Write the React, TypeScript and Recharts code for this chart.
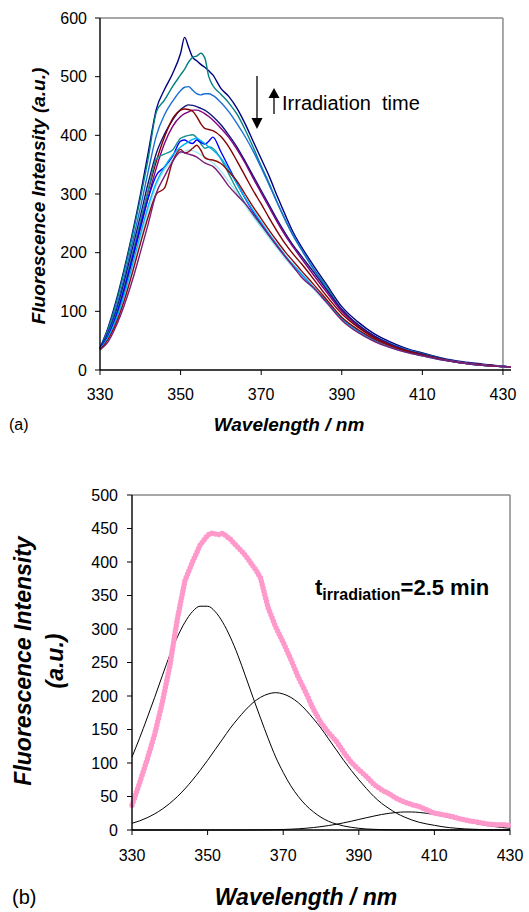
import React from 'react';
import { LineChart, Line, XAxis, YAxis, ReferenceLine } from 'recharts';

// ---- panel (a): emission spectra for successive irradiation times ----
const wavelengthA = [330, 332, 334, 336, 338, 340, 342, 344, 346, 348, 350, 351, 352, 353, 354, 355, 356, 357, 358, 360, 362, 364, 366, 368, 370, 372, 374, 376, 378, 380, 383, 386, 390, 394, 398, 402, 406, 410, 415, 420, 425, 432];

const navyTop = [38, 72, 118, 172, 232, 298, 372, 445, 478, 505, 540, 567, 550, 533, 527, 521, 516, 510, 503, 480, 466, 446, 420, 390, 360, 330, 296, 264, 234, 210, 178, 148, 108, 82, 62, 48, 37, 29, 20, 14, 10, 5];
const tealTop = [37, 70, 114, 168, 228, 292, 362, 440, 460, 483, 503, 513, 525, 533, 535, 540, 532, 500, 485, 470, 455, 436, 410, 380, 348, 318, 285, 255, 228, 205, 172, 145, 102, 78, 58, 45, 35, 28, 19, 13, 9, 5];
const blueMid = [37, 66, 106, 158, 216, 276, 340, 400, 435, 458, 476, 482, 483, 477, 471, 469, 471, 471, 468, 456, 440, 420, 398, 373, 345, 315, 285, 256, 229, 206, 173, 141, 103, 77, 58, 45, 35, 27, 19, 13, 9, 5];
const navyMid = [38, 63, 100, 150, 206, 262, 320, 370, 402, 426, 444, 449, 452, 451, 449, 446, 443, 438, 432, 418, 400, 380, 356, 331, 306, 281, 256, 233, 212, 194, 167, 139, 103, 77, 58, 44, 34, 27, 19, 13, 9, 5];
const purpleMid = [36, 56, 88, 133, 186, 240, 295, 345, 386, 415, 432, 437, 440, 443, 443, 441, 437, 432, 426, 412, 396, 376, 353, 327, 302, 277, 252, 229, 209, 190, 162, 135, 100, 75, 56, 43, 33, 26, 18, 13, 9, 5];
const redMid = [36, 58, 93, 140, 195, 250, 306, 356, 397, 428, 443, 445, 444, 441, 432, 420, 412, 410, 408, 398, 380, 356, 331, 306, 283, 259, 236, 215, 197, 181, 155, 128, 96, 73, 55, 42, 33, 26, 18, 12, 9, 5];
const tealLow = [36, 60, 95, 142, 196, 252, 308, 360, 368, 375, 395, 398, 400, 401, 396, 386, 378, 380, 378, 360, 334, 307, 284, 264, 246, 227, 209, 191, 175, 161, 140, 119, 89, 68, 52, 40, 31, 25, 18, 12, 8, 5];
const blueLow = [37, 58, 92, 138, 190, 244, 294, 332, 346, 364, 390, 392, 388, 386, 392, 388, 385, 390, 397, 372, 345, 318, 293, 270, 250, 230, 211, 193, 177, 162, 139, 117, 87, 66, 51, 40, 31, 25, 18, 12, 8, 5];
const cyanLow = [35, 55, 86, 128, 178, 230, 280, 320, 346, 366, 380, 385, 389, 393, 395, 391, 386, 380, 375, 361, 341, 317, 294, 272, 252, 232, 213, 195, 179, 164, 141, 118, 87, 66, 50, 39, 31, 24, 17, 12, 8, 5];
const paleCyanLow = [35, 54, 84, 125, 172, 222, 272, 315, 341, 358, 370, 373, 375, 374, 371, 367, 363, 358, 353, 339, 321, 301, 281, 261, 243, 225, 207, 190, 175, 160, 138, 116, 86, 65, 50, 39, 30, 24, 17, 12, 8, 5];
const redLow = [35, 52, 80, 118, 165, 215, 262, 300, 310, 355, 376, 370, 372, 378, 383, 375, 362, 359, 358, 352, 338, 322, 300, 278, 258, 238, 219, 201, 185, 169, 146, 122, 90, 69, 53, 41, 32, 25, 18, 12, 8, 5];
const purpleLow = [34, 48, 75, 110, 152, 200, 250, 302, 330, 355, 372, 370, 368, 366, 363, 358, 353, 350, 347, 332, 313, 298, 284, 266, 248, 229, 211, 193, 176, 158, 140, 117, 85, 64, 49, 38, 30, 24, 17, 12, 8, 5];

const seriesA = [
  { key: 'navyTop', color: '#000080', values: navyTop },
  { key: 'tealTop', color: '#008080', values: tealTop },
  { key: 'blueMid', color: '#1A6FD6', values: blueMid },
  { key: 'navyMid', color: '#14147A', values: navyMid },
  { key: 'purpleMid', color: '#800080', values: purpleMid },
  { key: 'redMid', color: '#800000', values: redMid },
  { key: 'tealLow', color: '#16918F', values: tealLow },
  { key: 'blueLow', color: '#0000FF', values: blueLow },
  { key: 'paleCyanLow', color: '#A8E6F4', values: paleCyanLow },
  { key: 'cyanLow', color: '#00B4F0', values: cyanLow },
  { key: 'redLow', color: '#8B0A0A', values: redLow },
  { key: 'purpleLow', color: '#7A1E7A', values: purpleLow },
];

const dataA = wavelengthA.map((wl, i) => {
  const row: any = { wl };
  seriesA.forEach((s) => { row[s.key] = s.values[i]; });
  return row;
});

// ---- panel (b): measured spectrum at 2.5 min and its three components ----
const wavelengthMeas = [330, 332, 334, 336, 338, 340, 342, 344, 346, 348, 350, 351, 352, 353, 354, 356, 358, 360, 362, 363, 364, 366, 368, 370, 372, 374, 376, 378, 380, 382, 384, 386, 388, 390, 392, 394, 396, 398, 400, 402, 404, 406, 408, 410, 412, 414, 416, 418, 420, 422, 424, 426, 428, 430];
const measured = [37, 70, 105, 143, 190, 245, 315, 372, 400, 425, 440, 443, 442, 441, 443, 434, 422, 410, 394, 386, 376, 332, 303, 280, 255, 228, 205, 180, 160, 145, 133, 116, 101, 90, 80, 68, 60, 54, 47, 42, 38, 35, 30, 25, 23, 21, 18, 15, 13, 11, 9, 8, 8, 7];

const wavelengthFit = [330, 332, 334, 336, 338, 340, 342, 344, 346, 348, 350, 352, 354, 356, 358, 360, 362, 364, 366, 368, 370, 372, 374, 376, 378, 380, 382, 384, 386, 388, 390, 392, 394, 396, 398, 400, 402, 404, 406, 408, 410, 412, 414, 416, 418, 420, 422, 424, 426, 428, 430];
const band1 = [109, 137, 167, 198, 230, 261, 288, 310, 326, 334, 334, 326, 310, 288, 261, 230, 198, 167, 137, 109, 86, 66, 50, 37, 27, 19, 13, 9, 6, 4, 2.5, 1.5, 1, 0.6, 0.3, 0.2, 0.1, 0, 0, 0, 0, 0, 0, 0, 0, 0, 0, 0, 0, 0, 0];
const band2 = [10, 13.6, 18.3, 24.1, 31.2, 39.8, 49.8, 61.4, 74.5, 88.8, 104, 120, 136, 152, 166, 179, 190, 198, 203, 205, 203, 198, 190, 179, 166, 152, 136, 120, 104, 89, 75, 62, 50, 40, 32, 25, 19.5, 15, 11.5, 9, 7, 5, 3.5, 2.5, 1.7, 1.2, 0.8, 0.5, 0.3, 0.2, 0.1];
const band3 = [0, 0, 0, 0, 0, 0, 0, 0, 0, 0, 0, 0, 0, 0, 0, 0, 0.1, 0.2, 0.3, 0.5, 0.8, 1.2, 1.8, 2.6, 3.7, 5, 6.6, 8.5, 10.7, 13.1, 15.7, 18.3, 20.8, 23.1, 24.9, 26.2, 26.9, 26.9, 26.2, 24.9, 23.1, 20.8, 18.3, 15.7, 13.1, 10.7, 8.5, 6.6, 5, 3.7, 2.6];

const measData = wavelengthMeas.map((wl, i) => ({ wl, v: measured[i] }));
const fitData = wavelengthFit.map((wl, i) => ({ wl, b1: band1[i], b2: band2[i], b3: band3[i] }));

const ticksX = [330, 350, 370, 390, 410, 430];
const ticksYA = [0, 100, 200, 300, 400, 500, 600];
const ticksYB = [0, 50, 100, 150, 200, 250, 300, 350, 400, 450, 500];

const FONT = '"Liberation Sans", Arial, Helvetica, sans-serif';
const tickStyle = { fill: '#000', fontSize: 16, fontFamily: FONT };

export default function App() {
  return (
    <div style={{ position: 'absolute', left: 0, top: 0, width: 529, height: 912, background: '#fff', fontFamily: FONT }}>
      <div style={{ position: 'absolute', left: 0, top: 0 }}>
        <LineChart width={529} height={440} data={dataA} margin={{ top: 18, right: 18, bottom: 40, left: 0 }}>
          <XAxis
            dataKey="wl"
            type="number"
            domain={[330, 432]}
            ticks={ticksX}
            tick={tickStyle}
            tickSize={5}
            tickMargin={14}
            height={30}
            axisLine={{ stroke: '#000', strokeWidth: 1.4 }}
            tickLine={{ stroke: '#000' }}
          />
          <YAxis
            type="number"
            domain={[0, 600]}
            ticks={ticksYA}
            tick={tickStyle}
            tickSize={5}
            tickMargin={8}
            width={100}
            axisLine={{ stroke: '#000', strokeWidth: 1.4 }}
            tickLine={{ stroke: '#000' }}
          />
          <ReferenceLine segment={[{ x: 330, y: 600 }, { x: 430, y: 600 }]} stroke="#8a8a8a" strokeWidth={1.5} />
          <ReferenceLine x={430} stroke="#8a8a8a" strokeWidth={1.5} />
          {seriesA.map((s) => (
            <Line
              key={s.key}
              type="monotone"
              dataKey={s.key}
              stroke={s.color}
              strokeWidth={1.4}
              dot={false}
              isAnimationActive={false}
            />
          ))}
        </LineChart>
      </div>

      <div style={{ position: 'absolute', left: 0, top: 470 }}>
        <LineChart width={529} height={442} margin={{ top: 25, right: 19, bottom: 52, left: 0 }}>
          <XAxis
            dataKey="wl"
            type="number"
            domain={[330, 430]}
            ticks={ticksX}
            tick={tickStyle}
            tickSize={5}
            tickMargin={15}
            height={30}
            allowDuplicatedCategory={false}
            axisLine={{ stroke: '#000', strokeWidth: 1.4 }}
            tickLine={{ stroke: '#000' }}
          />
          <YAxis
            type="number"
            domain={[0, 500]}
            ticks={ticksYB}
            tick={tickStyle}
            tickSize={5}
            tickMargin={9}
            width={132}
            axisLine={{ stroke: '#000', strokeWidth: 1.4 }}
            tickLine={{ stroke: '#000' }}
          />
          <ReferenceLine y={500} stroke="#8a8a8a" strokeWidth={1.5} />
          <ReferenceLine x={430} stroke="#8a8a8a" strokeWidth={1.5} />
          <Line data={fitData} type="monotone" dataKey="b1" stroke="#000" strokeWidth={1} dot={false} isAnimationActive={false} />
          <Line data={fitData} type="monotone" dataKey="b2" stroke="#000" strokeWidth={1} dot={false} isAnimationActive={false} />
          <Line data={fitData} type="monotone" dataKey="b3" stroke="#000" strokeWidth={1} dot={false} isAnimationActive={false} />
          <Line data={measData} type="linear" dataKey="v" stroke="#000080" strokeWidth={1} strokeDasharray="3 2" dot={false} isAnimationActive={false} />
          <Line
            data={measData}
            type="linear"
            dataKey="v"
            stroke="#FF99CC"
            strokeWidth={5.5}
            strokeDasharray="0 3.5"
            strokeLinecap="round"
            dot={false}
            isAnimationActive={false}
          />
        </LineChart>
      </div>

      <svg width={529} height={912} style={{ position: 'absolute', left: 0, top: 0, pointerEvents: 'none' }} fontFamily={FONT}>
        {/* panel (a) annotations */}
        <line x1={257} y1={76} x2={257} y2={119} stroke="#000" strokeWidth={1.3} />
        <polygon points="251.5,118 262.5,118 257,129" fill="#000" />
        <line x1={274} y1={114} x2={274} y2={97} stroke="#000" strokeWidth={1.3} />
        <polygon points="268.5,98 279.5,98 274,88" fill="#000" />
        <text x={282} y={110} fontSize={20} style={{ whiteSpace: 'pre' }}>{'Irradiation  time'}</text>
        <text transform="translate(45,196) rotate(-90)" textAnchor="middle" fontSize={19} fontWeight="bold" fontStyle="italic">Fluorescence Intensity (a.u.)</text>
        <text x={289} y={431} textAnchor="middle" fontSize={19} fontWeight="bold" fontStyle="italic">Wavelength / nm</text>
        <text x={9} y={430} fontSize={16}>(a)</text>

        {/* panel (b) annotations */}
        <text x={315} y={595} fontSize={22} fontWeight="bold">
          t<tspan fontSize={16} dy={5}>irradiation</tspan><tspan fontSize={22} dy={-5}>=2.5 min</tspan>
        </text>
        <text transform="translate(31,661) rotate(-90)" textAnchor="middle" fontSize={23} fontWeight="bold" fontStyle="italic">Fluorescence Intensity</text>
        <text transform="translate(63,661) rotate(-90)" textAnchor="middle" fontSize={23} fontWeight="bold" fontStyle="italic">(a.u.)</text>
        <text x={306} y={905} textAnchor="middle" fontSize={23} fontWeight="bold" fontStyle="italic">Wavelength / nm</text>
        <text x={12} y={904} fontSize={20}>(b)</text>
      </svg>
    </div>
  );
}
